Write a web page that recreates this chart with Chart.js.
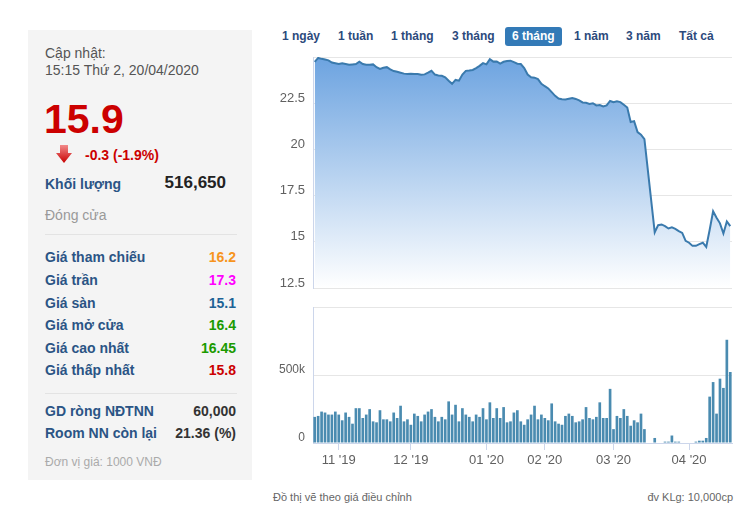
<!DOCTYPE html>
<html>
<head>
<meta charset="utf-8">
<script src="https://cdn.jsdelivr.net/npm/chart.js@4.4.0/dist/chart.umd.min.js"></script>
<style>
  body { margin: 0; background: #fff; font-family: "Liberation Sans", Arial, sans-serif; }
  #wrap { position: relative; width: 755px; height: 515px; overflow: hidden; }
  .abs { position: absolute; white-space: nowrap; }
  #panel { position: absolute; left: 28px; top: 30px; width: 224px; height: 450px; background: #f4f4f4; }
  .lbl { left: 45px; font-size: 14px; line-height: 16px; font-weight: bold; color: #2b5485; }
  .val { right: 519px; font-size: 14px; line-height: 16px; font-weight: bold; text-align: right; }
  .hr { position: absolute; left: 45px; width: 192px; height: 1px; background: #e3e3e3; }
  .menu { top: 28px; font-size: 12px; line-height: 16px; font-weight: bold; color: #2c4a7c; }
  #active { position: absolute; left: 505px; top: 27px; width: 57px; height: 19px; background: #337ab7; border-radius: 3px; }
  canvas { position: absolute; }
</style>
</head>
<body>
<div id="wrap">
  <div id="panel"></div>
  <div class="abs" style="left:45px;top:45px;font-size:14px;line-height:16px;color:#555">Cập nhật:</div>
  <div class="abs" style="left:45px;top:62px;font-size:14px;line-height:16px;color:#555">15:15 Thứ 2, 20/04/2020</div>
  <div class="abs" style="left:44px;top:99px;font-size:41px;line-height:41px;font-weight:bold;color:#cc0000">15.9</div>
  <svg class="abs" style="left:56px;top:145px" width="16" height="18" viewBox="0 0 16 18">
    <defs><linearGradient id="ar" x1="0" y1="0" x2="0" y2="1"><stop offset="0" stop-color="#f28a8a"/><stop offset="1" stop-color="#c80000"/></linearGradient></defs>
    <polygon points="4,0 12,0 12,8 16,8 8,18 0,8 4,8" fill="url(#ar)"/>
  </svg>
  <div class="abs" style="left:85px;top:147px;font-size:14px;line-height:16px;font-weight:bold;color:#cc0000">-0.3 (-1.9%)</div>
  <div class="abs lbl" style="top:176px">Khối lượng</div>
  <div class="abs" style="right:529px;top:173px;font-size:17px;line-height:20px;font-weight:bold;color:#222">516,650</div>
  <div class="abs" style="left:45px;top:207px;font-size:14px;line-height:16px;color:#999">Đóng cửa</div>
  <div class="hr" style="top:234px"></div>
  <div class="abs lbl" style="top:249px">Giá tham chiếu</div>
  <div class="abs val" style="top:249px;color:#f7941d">16.2</div>
  <div class="abs lbl" style="top:272px">Giá trần</div>
  <div class="abs val" style="top:272px;color:#ff00ff">17.3</div>
  <div class="abs lbl" style="top:295px">Giá sàn</div>
  <div class="abs val" style="top:295px;color:#1d6296">15.1</div>
  <div class="abs lbl" style="top:317px">Giá mở cửa</div>
  <div class="abs val" style="top:317px;color:#1a9a00">16.4</div>
  <div class="abs lbl" style="top:340px">Giá cao nhất</div>
  <div class="abs val" style="top:340px;color:#1a9a00">16.45</div>
  <div class="abs lbl" style="top:362px">Giá thấp nhất</div>
  <div class="abs val" style="top:362px;color:#cc0000">15.8</div>
  <div class="hr" style="top:393px"></div>
  <div class="abs lbl" style="top:403px">GD ròng NĐTNN</div>
  <div class="abs val" style="top:403px;color:#333">60,000</div>
  <div class="abs lbl" style="top:425px">Room NN còn lại</div>
  <div class="abs val" style="top:425px;color:#333">21.36 (%)</div>
  <div class="abs" style="left:45px;top:455px;font-size:12px;line-height:14px;color:#aaa">Đơn vị giá: 1000 VNĐ</div>

  <div id="active"></div>
  <div class="abs menu" style="left:282px">1 ngày</div>
  <div class="abs menu" style="left:338px">1 tuần</div>
  <div class="abs menu" style="left:391px">1 tháng</div>
  <div class="abs menu" style="left:452px">3 tháng</div>
  <div class="abs menu" style="left:512px;color:#fff">6 tháng</div>
  <div class="abs menu" style="left:574px">1 năm</div>
  <div class="abs menu" style="left:626px">3 năm</div>
  <div class="abs menu" style="left:679px">Tất cả</div>

  <canvas id="priceChart" width="470" height="240" style="left:270px;top:50px"></canvas>
  <canvas id="volChart" width="470" height="170" style="left:270px;top:300px"></canvas>

  <div class="abs" style="left:273px;top:490px;font-size:11px;line-height:14px;color:#666">Đồ thị vẽ theo giá điều chỉnh</div>
  <div class="abs" style="right:22px;top:490px;font-size:11px;line-height:14px;color:#666">đv KLg: 10,000cp</div>
</div>
<script>
// giá đóng cửa theo phiên (23/10/2019 - 20/04/2020), null = không có giao dịch
const prices = [
  24.74, 24.95, 24.90, 24.86, 24.82, 24.70, 24.66, 24.62, 24.66, 24.62,
  24.58, 24.60, 24.62, 24.75, 24.62, 24.58, 24.58, 24.60, 24.45, 24.36,
  24.42, 24.45, 24.33, 24.24, 24.20, 24.15, 24.10, 24.08, 24.10, 24.08,
  24.08, 24.04, 24.06, 24.15, 24.25, 24.05, 24.00, 23.98, 23.90, 23.72,
  23.55, 23.76, 23.72, 24.05, 24.25, 24.27, 24.30, 24.40, 24.52, 24.67,
  24.60, 24.88, 24.75, 24.76, 24.64, 24.74, 24.78, 24.80, 24.72, 24.64,
  24.62, 24.40, 24.05, 23.90, 23.88, 23.80, 23.55, 23.42, 23.30, 23.10,
  22.90, 22.75, 22.72, 22.70, 22.74, 22.78, 22.73, 22.65, 22.54, 22.52,
  22.46, 22.50, 22.38, 22.40, 22.33, 22.38, 22.62, 22.55, 22.60, 22.56,
  22.42, 22.27, 21.48, 21.53, 20.94, 20.80, 20.55, null, null, 15.51,
  15.90, 15.94, 15.85, 15.72, 15.78, 15.70, 15.58, 15.48, 15.05, 14.95,
  14.78, 14.78, 14.87, 14.95, 14.72, 15.65, 16.65, 16.30, 16.00, 15.45,
  16.10, 15.85
];
const volumes = [
  192000, 199000, 231000, 224000, 209000, 209000, 231000, 209000, 167000, 224000,
  192000, 142000, 256000, 256000, 184000, 209000, 249000, 159000, 152000, 241000,
  174000, 174000, 159000, 224000, 184000, 274000, 159000, 174000, 134000, 216000,
  199000, 159000, 209000, 231000, 249000, 192000, 159000, 192000, 174000, 306000,
  209000, 281000, 159000, 256000, 209000, 192000, 159000, 209000, 192000, 256000,
  174000, 299000, 184000, 256000, 184000, 264000, 152000, 159000, 224000, 241000,
  159000, 134000, 174000, 209000, 274000, 174000, 209000, 184000, 167000, 291000,
  159000, 142000, 134000, 199000, 216000, 199000, 152000, 159000, 174000, 264000,
  184000, 174000, 192000, 299000, 184000, 184000, 398000, 102000, 199000, 184000,
  249000, 199000, 127000, 167000, 152000, 216000, 102000, 0, 0, 37000,
  0, 0, 10000, 10000, 55000, 10000, 10000, 0, 0, 0,
  0, 10000, 17000, 17000, 37000, 341000, 448000, 216000, 473000, 405000,
  759000, 522000
];
// phiên đầu tiên của mỗi tháng
const monthTickIndex = [7, 28, 50, 67, 87, 109];
const monthTickLabels = ["11 '19", "12 '19", "01 '20", "02 '20", "03 '20", "04 '20"];

const fontFam = '"Liberation Sans", Arial, sans-serif';
const xMin = -0.5, xMax = prices.length - 0.5;

// fixed y-axis width, no extra vertical padding from tick labels
function fitY(s) {
  s.width = 43;
  s.paddingTop = 0;
  s.paddingBottom = 0;
}

new Chart(document.getElementById('priceChart'), {
  type: 'line',
  data: {
    datasets: [{
      data: prices.map((y, i) => ({ x: i, y: y })),
      borderColor: '#3a7aad',
      borderWidth: 2,
      pointRadius: 0,
      tension: 0,
      spanGaps: true,
      fill: 'start',
      backgroundColor: (c) => {
        const a = c.chart.chartArea;
        if (!a) return 'rgba(120,170,225,0.6)';
        const g = c.chart.ctx.createLinearGradient(0, a.top, 0, a.bottom);
        g.addColorStop(0, 'rgb(108,163,224)');
        g.addColorStop(1, 'rgb(255,255,255)');
        return g;
      }
    }]
  },
  options: {
    responsive: false,
    animation: false,
    layout: { padding: { top: 7, right: 8, bottom: 2, left: 0 } },
    plugins: { legend: { display: false }, tooltip: { enabled: false } },
    scales: {
      x: { type: 'linear', min: xMin, max: xMax, display: false },
      y: {
        min: 12.5, max: 25,
        afterFit: fitY,
        ticks: {
          stepSize: 2.5, labelOffset: -5, padding: 8, color: '#606060',
          font: { size: 13, family: fontFam },
          callback: (v) => v === 25 ? '' : v
        },
        grid: { color: '#e6e6e6', drawTicks: false },
        border: { color: '#ccd6eb' }
      }
    }
  }
});

new Chart(document.getElementById('volChart'), {
  type: 'bar',
  data: {
    datasets: [{
      data: volumes.map((y, i) => ({ x: i, y: y })),
      backgroundColor: '#4a8bb0',
      borderWidth: 0,
      barPercentage: 1,
      categoryPercentage: 0.78
    }]
  },
  options: {
    responsive: false,
    animation: false,
    layout: { padding: { top: 7, right: 8, bottom: 0, left: 0 } },
    plugins: { legend: { display: false }, tooltip: { enabled: false } },
    scales: {
      x: {
        type: 'linear', min: xMin, max: xMax, offset: false,
        afterFit: (s) => { s.height = 27; },
        afterBuildTicks: (s) => { s.ticks = monthTickIndex.map(v => ({ value: v })); },
        ticks: {
          autoSkip: false, maxRotation: 0, padding: 3, color: '#606060',
          font: { size: 13, family: fontFam },
          callback: (v, i) => monthTickLabels[i]
        },
        grid: { drawOnChartArea: false, offset: false, tickLength: 7, color: '#ccd6eb' },
        border: { color: '#ccd6eb' }
      },
      y: {
        min: 0, max: 1000000,
        afterFit: fitY,
        ticks: {
          stepSize: 500000, labelOffset: -5, padding: 8, color: '#606060',
          font: { size: 12, family: fontFam },
          callback: (v) => v === 0 ? '0' : (v === 500000 ? '500k' : '')
        },
        grid: { color: '#e6e6e6', drawTicks: false },
        border: { color: '#ccd6eb' }
      }
    }
  }
});
</script>
</body>
</html>
